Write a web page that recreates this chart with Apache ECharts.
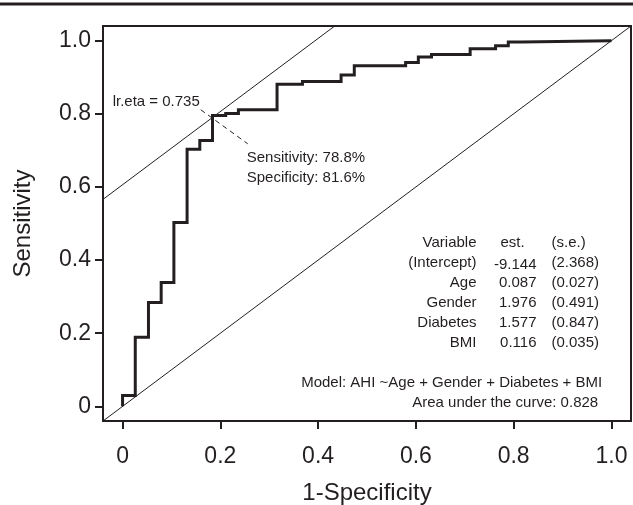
<!DOCTYPE html>
<html lang="en">
<head>
<meta charset="UTF-8">
<title>ROC</title>
<script src="https://cdn.jsdelivr.net/npm/echarts@6/dist/echarts.min.js"></script>
<style>
  html, body { margin: 0; padding: 0; background: #fff; }
  #roc { width: 633px; height: 505px; }
</style>
</head>
<body>
<div id="roc"></div>
<script type="text/javascript">
    // staircase corners of the ROC curve (1-specificity, sensitivity)
    var fpr = [0, 0, 0.026, 0.026, 0.053, 0.053, 0.079, 0.079, 0.105, 0.105, 0.132, 0.132, 0.158, 0.158,
               0.184, 0.184, 0.184, 0.211, 0.211, 0.237, 0.237, 0.316, 0.316, 0.368, 0.368, 0.447, 0.447,
               0.474, 0.474, 0.579, 0.579, 0.605, 0.605, 0.632, 0.632, 0.711, 0.711, 0.763, 0.763,
               0.789, 0.789, 0.816, 0.816, 1.0];
    var tpr = [0, 0.030, 0.030, 0.189, 0.189, 0.284, 0.284, 0.339, 0.339, 0.503, 0.503, 0.703, 0.703, 0.727,
               0.727, 0.788, 0.795, 0.795, 0.801, 0.801, 0.811, 0.811, 0.881, 0.881, 0.888, 0.888, 0.906,
               0.906, 0.931, 0.931, 0.940, 0.940, 0.955, 0.955, 0.962, 0.962, 0.978, 0.978, 0.986,
               0.986, 0.996, 0.996, 1.0, 1.0];

    var tickValues = [0, 0.2, 0.4, 0.6, 0.8, 1.0];
    var tickLabels = ['0', '0.2', '0.4', '0.6', '0.8', '1.0'];

    // best cut-off
    var optFpr = 0.184, optSens = 0.788;
    var lrEta = '0.735', sensText = '78.8%', specText = '81.6%';

    // model table
    var tableVar = ['Variable', '(Intercept)', 'Age', 'Gender', 'Diabetes', 'BMI'];
    var tableEst = ['-9.144', '0.087', '1.976', '1.577', '0.116'];
    var tableSe  = ['(s.e.)', '(2.368)', '(0.027)', '(0.491)', '(0.847)', '(0.035)'];
    var modelText = 'Model: AHI ~Age + Gender + Diabetes + BMI';
    var aucText = 'Area under the curve: 0.828';

    var lo = -0.04, hi = 1.04;
    var ink = '#231f20';
    var font = '"Liberation Sans", Arial, Helvetica, sans-serif';

    var rocData = fpr.map(function (x, i) { return [x, tpr[i]]; });
    var c = optSens - optFpr + 0.002;     // offset of the tangent line

    var myChart = echarts.init(document.getElementById('roc'));

    function axisCommon(name, gap, margin) {
        return {
            type: 'value', min: lo, max: hi,
            name: name, nameLocation: 'middle', nameGap: gap,
            nameTextStyle: { fontFamily: font, fontSize: 24, color: ink },
            axisLine: { show: false, onZero: false },
            splitLine: { show: false },
            axisTick: { show: true, length: 8, customValues: tickValues, lineStyle: { color: ink, width: 2 } },
            axisLabel: {
                customValues: tickValues, margin: margin,
                fontFamily: font, fontSize: 23, color: ink,
                formatter: function (v) { return tickLabels[tickValues.indexOf(Math.round(v * 10) / 10)]; }
            }
        };
    }

    myChart.setOption({
        animation: false,
        grid: {
            left: 103, right: 2, top: 26, bottom: 84, outerBoundsMode: 'none', containLabel: false,
            show: true, borderColor: ink, borderWidth: 2
        },
        xAxis: axisCommon('1-Specificity', 60, 24),
        yAxis: axisCommon('Sensitivity', 68, 12),
        series: [
            {   // chance line
                type: 'line', data: [[lo, lo], [hi, hi]], showSymbol: false, silent: true,
                lineStyle: { color: ink, width: 1 }
            },
            {   // tangent through the cut-off
                type: 'line', data: [[lo, lo + c], [hi - c, hi]], showSymbol: false, silent: true,
                lineStyle: { color: ink, width: 1 }
            },
            {   // pointer from the label to the cut-off
                type: 'line', data: [[0.160, 0.811], [0.256, 0.718]], showSymbol: false, silent: true,
                lineStyle: { color: ink, width: 1, type: [5, 4] }
            },
            {
                type: 'line', data: rocData, showSymbol: false, silent: true, z: 5,
                lineStyle: { color: ink, width: 3, join: 'miter' }
            }
        ]
    });

    // text annotations anchored in data space
    function px(x, y) { return myChart.convertToPixel({ gridIndex: 0 }, [x, y]); }
    function txt(p, s, align, size) {
        return {
            type: 'text', x: p[0], y: p[1], silent: true,
            style: {
                text: s, fill: ink, font: (size || 15) + 'px ' + font,
                align: align, verticalAlign: 'middle', textAlign: align, textVerticalAlign: 'middle'
            }
        };
    }

    var els = [];
    var pEta = px(0.158, 0.833);
    els.push(txt(pEta, 'lr.eta = ' + lrEta, 'right'));
    var pSens = px(0.254, 0.68);
    els.push(txt(pSens, 'Sensitivity: ' + sensText, 'left'));
    els.push(txt([pSens[0], pSens[1] + 20], 'Specificity: ' + specText, 'left'));

    var pTab = px(0.724, 0.447);
    var rowH = 20;
    tableVar.forEach(function (s, i) { els.push(txt([pTab[0], pTab[1] + i * rowH], s, 'right')); });
    els.push(txt([pTab[0] + 24, pTab[1]], 'est.', 'left'));
    tableEst.forEach(function (s, i) { els.push(txt([pTab[0] + 60, pTab[1] + (i + 1) * rowH + (i === 0 ? 2 : 0)], s, 'right')); });
    tableSe.forEach(function (s, i) { els.push(txt([pTab[0] + 75, pTab[1] + i * rowH], s, 'left')); });

    var pModel = px(0.981, 0.065);
    els.push(txt(pModel, modelText, 'right'));
    els.push(txt([pModel[0] - 4, pModel[1] + 20], aucText, 'right'));

    // rule across the top of the figure
    els.push({ type: 'line', silent: true, shape: { x1: 0, y1: 4, x2: 633, y2: 4 }, style: { stroke: ink, lineWidth: 3 } });

    myChart.setOption({ graphic: { elements: els } });
</script>
</body>
</html>
